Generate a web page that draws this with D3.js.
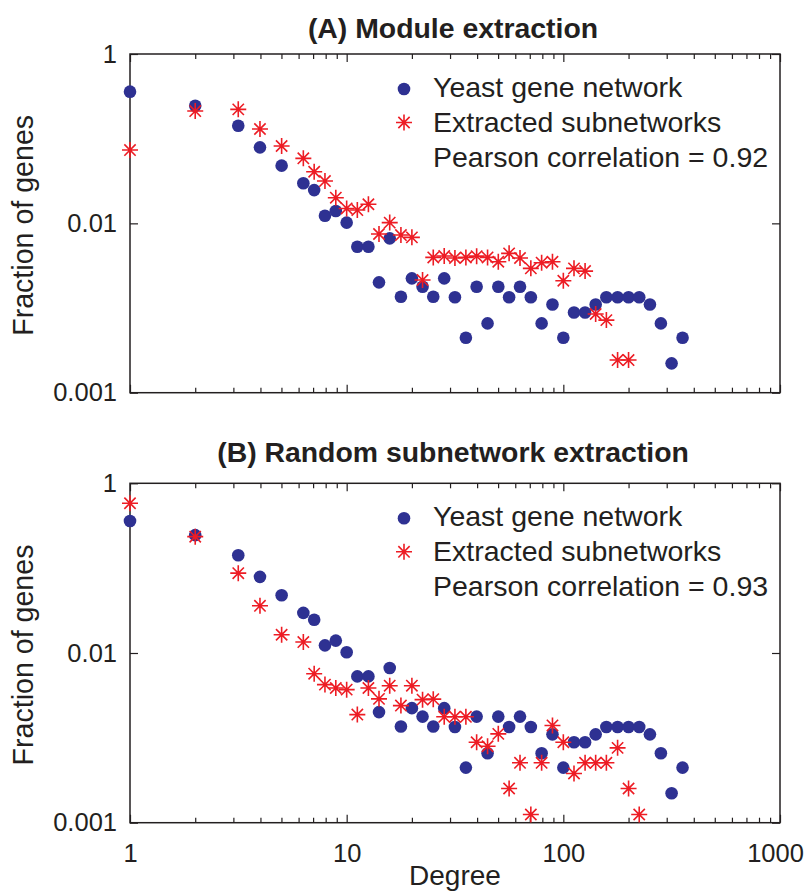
<!DOCTYPE html>
<html>
<head>
<meta charset="utf-8">
<script src="https://cdn.jsdelivr.net/npm/d3@7"></script>
<style>
  html, body { margin: 0; padding: 0; background: #fff; }
  svg { display: block; font-family: "Liberation Sans", Arial, Helvetica, sans-serif; }
</style>
</head>
<body>
<svg id="chart" width="806" height="892"></svg>
<script>
// Degree bins (log-spaced, 0.05 decade steps)
const degrees = [1, 2, 3.16, 3.98, 5.01, 6.31, 7.08, 7.94, 8.91, 10, 11.2, 12.6, 14.1, 15.8, 17.8,
  20.0, 22.4, 25.1, 28.2, 31.6, 35.5, 39.8, 44.7, 50.1, 56.2, 63.1, 70.8, 79.4, 89.1, 100,
  112, 126, 141, 158, 178, 200, 224, 251, 282, 316, 355];

// Whole yeast gene network degree distribution (same in both panels)
const yeastNetwork = [0.359, 0.245, 0.142, 0.079, 0.048, 0.0297, 0.0247, 0.0123, 0.014, 0.0102,
  0.0053, 0.0053, 0.00201, 0.00665, 0.00136, 0.00224, 0.00178, 0.00136, 0.00224, 0.00134,
  0.000446, 0.00178, 0.000658, 0.00178, 0.00134, 0.00178, 0.00134, 0.000658, 0.0011, 0.000446,
  0.000887, 0.000887, 0.0011, 0.00134, 0.00134, 0.00134, 0.00134, 0.0011, 0.000658, 0.000222, 0.000446];

// Panel A: subnetworks from module extraction (degrees 1 .. 200)
const moduleSubnetworks = [0.0734, 0.212, 0.222, 0.130, 0.0819, 0.0586, 0.0407, 0.0316, 0.0201, 0.0150,
  0.01435, 0.0168, 0.00748, 0.0102, 0.00727, 0.00683, 0.00214, 0.00396, 0.00411, 0.0039,
  0.00396, 0.0041, 0.00396, 0.00352, 0.00442, 0.0039, 0.00294, 0.00343, 0.00352, 0.0021,
  0.00294, 0.00273, 0.00085, 0.00072, 0.000243, 0.000243];

// Panel B: subnetworks from random extraction (degrees 1 .. 224)
const randomSubnetworks = [0.582, 0.235, 0.0873, 0.036, 0.0164, 0.01346, 0.0057, 0.00424, 0.00387, 0.0037,
  0.00188, 0.00387, 0.00288, 0.00412, 0.0024, 0.00412, 0.00282, 0.00286, 0.00177, 0.00177,
  0.00177, 0.000888, 0.000796, 0.001114, 0.000253, 0.000508, 0.000125, 0.000508,
  0.0014, 0.000888, 0.00038, 0.000508, 0.000508, 0.000508, 0.000762, 0.000253, 0.000125];

const panelTitles = ["(A) Module extraction", "(B) Random subnetwork extraction"];
const legendLabels = ["Yeast gene network", "Extracted subnetworks"];
const correlations = ["0.92", "0.93"];

const xTickValues = [1, 10, 100, 1000];
const xTickLabels = ["1", "10", "100", "1000"];
const yTickValues = [1, 0.01, 0.0001];
const yTickLabels = ["1", "0.01", "0.001"];

const xLabel = "Degree";
const yLabel = "Fraction of genes";

const BLUE = "#2e3192";
const RED = "#ed1c24";
const INK = "#231f20";

const svg = d3.select("#chart");

const left = 130, right = 780;
const x = d3.scaleLog().domain([1, 1000]).range([left, right]);

const panels = [
  { top: 54, bottom: 392.7, title: panelTitles[0], titleY: 37.5, sub: moduleSubnetworks, r: correlations[0], xLabels: false },
  { top: 483.3, bottom: 822.7, title: panelTitles[1], titleY: 461.5, sub: randomSubnetworks, r: correlations[1], xLabels: true }
];

// Minor ticks at 2..9 of each decade
const xMinor = [];
[1, 10, 100].forEach(d => { for (let k = 2; k <= 9; k++) xMinor.push(d * k); });

function star(g, cx, cy, s) {
  const d = s, e = s * 0.7071;
  const p = `M${cx - d},${cy}L${cx + d},${cy}M${cx},${cy - d}L${cx},${cy + d}` +
            `M${cx - e},${cy - e}L${cx + e},${cy + e}M${cx - e},${cy + e}L${cx + e},${cy - e}`;
  g.append("path").attr("d", p).attr("stroke", RED).attr("stroke-width", 1.6).attr("fill", "none");
}

panels.forEach(p => {
  const y = d3.scaleLog().domain([0.0001, 1]).range([p.bottom, p.top]);
  const g = svg.append("g");

  // Title
  g.append("text").attr("x", 453).attr("y", p.titleY).attr("text-anchor", "middle")
    .attr("font-size", 28.4).attr("font-weight", "bold").attr("fill", INK).text(p.title);

  // Frame
  g.append("rect").attr("x", left).attr("y", p.top).attr("width", right - left).attr("height", p.bottom - p.top)
    .attr("fill", "none").attr("stroke", INK).attr("stroke-width", 1.5);

  // Axes with inward ticks
  const bottomAxis = d3.axisBottom(x).tickValues(xMinor).tickSize(-5).tickFormat("");
  const bottomMajor = d3.axisBottom(x).tickValues(xTickValues).tickSize(-8)
    .tickFormat((d, i) => p.xLabels ? xTickLabels[i] : "").tickPadding(21);
  const topAxis = d3.axisTop(x).tickValues(xMinor).tickSize(-5).tickFormat("");
  const topMajor = d3.axisTop(x).tickValues(xTickValues).tickSize(-8).tickFormat("");
  const leftAxis = d3.axisLeft(y).tickValues(yTickValues).tickSize(-8)
    .tickFormat((d, i) => yTickLabels[i]).tickPadding(13);
  const rightAxis = d3.axisRight(y).tickValues(yTickValues).tickSize(-8).tickFormat("");

  const axes = [
    [bottomAxis, `translate(0,${p.bottom})`], [bottomMajor, `translate(0,${p.bottom})`],
    [topAxis, `translate(0,${p.top})`], [topMajor, `translate(0,${p.top})`],
    [leftAxis, `translate(${left},0)`], [rightAxis, `translate(${right},0)`]
  ];
  axes.forEach(([ax, tr]) => {
    const a = g.append("g").attr("transform", tr).call(ax);
    a.select(".domain").remove();
    a.selectAll(".tick line").attr("stroke", INK).attr("stroke-width", 1.2);
    a.selectAll(".tick text").attr("fill", INK).attr("font-size", 25.5)
      .attr("font-family", "'Liberation Sans', Arial, Helvetica, sans-serif");
  });
  // keep the last degree label inside the page
  g.selectAll(".tick text").filter(d => d === 1000).attr("dx", -5);

  // Y label
  g.append("text").attr("transform", `translate(33,${(p.top + p.bottom) / 2 + 2}) rotate(-90)`)
    .attr("text-anchor", "middle").attr("font-size", 28.6).attr("fill", INK).text(yLabel);

  // Yeast network points
  g.append("g").selectAll("circle").data(yeastNetwork).join("circle")
    .attr("cx", (d, i) => x(degrees[i])).attr("cy", d => y(d)).attr("r", 6.3).attr("fill", BLUE);

  // Extracted subnetwork points
  const sg = g.append("g");
  p.sub.forEach((v, i) => star(sg, x(degrees[i]), y(v), 8));

  // Legend
  const lx = 404, ly = p.top + 35;
  g.append("circle").attr("cx", lx).attr("cy", ly).attr("r", 6.3).attr("fill", BLUE);
  star(g, lx, ly + 33.5, 8);
  const lines = [legendLabels[0], legendLabels[1], `Pearson correlation = ${p.r}`];
  lines.forEach((t, i) => {
    g.append("text").attr("x", 433).attr("y", p.top + 42.7 + i * 35)
      .attr("font-size", 28.5).attr("fill", INK).text(t);
  });
});

// X axis label
svg.append("text").attr("x", 455).attr("y", 885).attr("text-anchor", "middle")
  .attr("font-size", 28).attr("fill", INK).text(xLabel);
</script>
</body>
</html>
